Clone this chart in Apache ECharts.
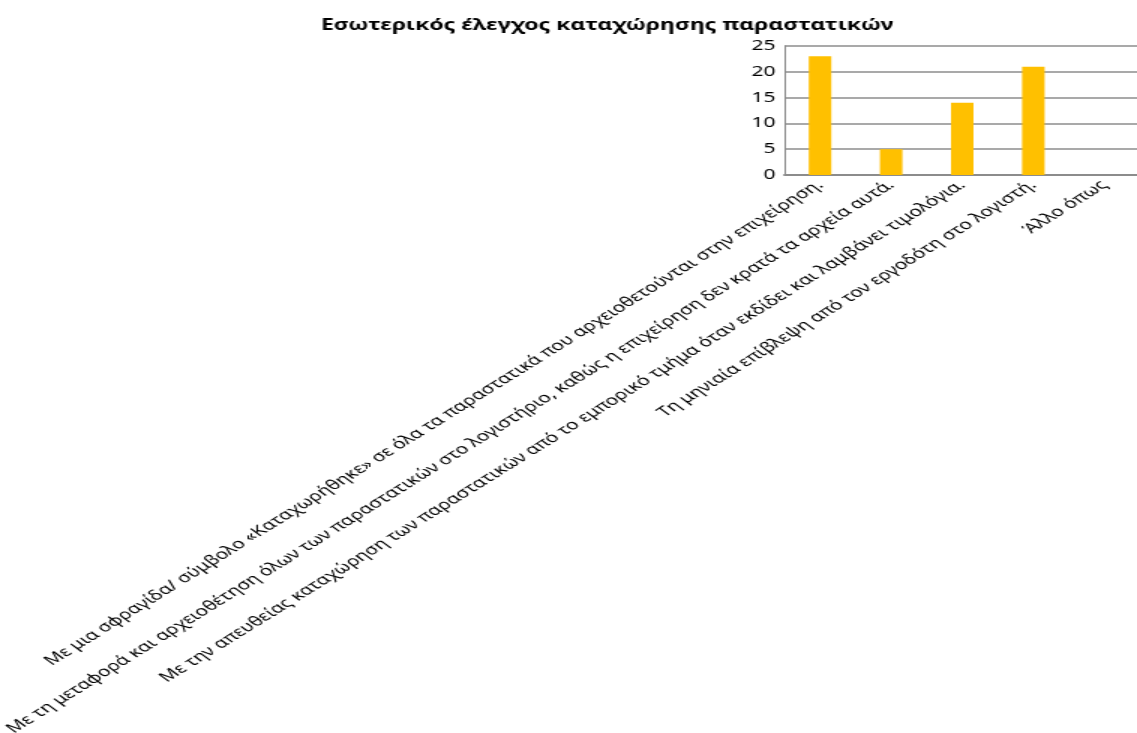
<!DOCTYPE html>
<html>
<head>
<meta charset="utf-8">
<script src="https://cdn.jsdelivr.net/npm/echarts@6/dist/echarts.min.js"></script>
<style>
  html, body { margin: 0; padding: 0; background: #fff; overflow: hidden; }
  /* the chart is laid out narrower and widened horizontally, giving the wide lettering */
  #chart { width: 758px; height: 733px; transform: scaleX(1.5); transform-origin: 0 0; }
</style>
</head>
<body>
<div id="chart"></div>
<script>
// Survey answers: how internal control of document entry is performed
const categories = [
  'Με μια σφραγίδα/ σύμβολο «Καταχωρήθηκε» σε όλα τα παραστατικά που αρχειοθετούνται στην επιχείρηση.',
  'Με τη μεταφορά και αρχειοθέτηση όλων των παραστατικών στο λογιστήριο, καθώς η επιχείρηση δεν κρατά τα αρχεία αυτά.',
  'Με την απευθείας καταχώρηση των παραστατικών από το εμπορικό τμήμα όταν εκδίδει και λαμβάνει τιμολόγια.',
  'Τη μηνιαία επίβλεψη από τον εργοδότη στο λογιστή.',
  'Άλλο όπως'
];
const counts = [23, 5, 14, 21, 0];
const yTicks = { min: 0, max: 25, interval: 5 };
const titleText = 'Εσωτερικός έλεγχος καταχώρησης παραστατικών';

const chart = echarts.init(document.getElementById('chart'), null, { renderer: 'canvas' });
chart.setOption({
  animation: false,
  backgroundColor: '#ffffff',
  title: {
    text: titleText,
    left: 209,
    top: 13,
    textStyle: { fontFamily: 'Noto Sans', fontWeight: 'bold', fontSize: 15.3, color: '#000' }
  },
  grid: {
    left: 523, top: 46, width: 237, height: 129,
    containLabel: false,
    outerBoundsMode: 'none'
  },
  xAxis: {
    type: 'category',
    data: categories,
    axisLine: { lineStyle: { color: '#8c8c8c', width: 2 } },
    axisTick: { show: false },
    axisLabel: {
      interval: 0,
      rotate: 43,
      margin: 8,
      fontFamily: 'Noto Sans',
      fontSize: 13.9,
      color: '#000'
    }
  },
  yAxis: {
    type: 'value',
    min: yTicks.min,
    max: yTicks.max,
    interval: yTicks.interval,
    axisLine: { show: true, lineStyle: { color: '#8c8c8c', width: 1 } },
    axisTick: { show: false },
    splitLine: { lineStyle: { color: '#8c8c8c', width: 1.5 } },
    axisLabel: { fontFamily: 'Noto Sans', fontSize: 14, color: '#000', margin: 6 }
  },
  series: [{
    type: 'bar',
    data: counts,
    barWidth: 15,
    itemStyle: { color: '#FFC000' }
  }]
});
</script>
</body>
</html>
